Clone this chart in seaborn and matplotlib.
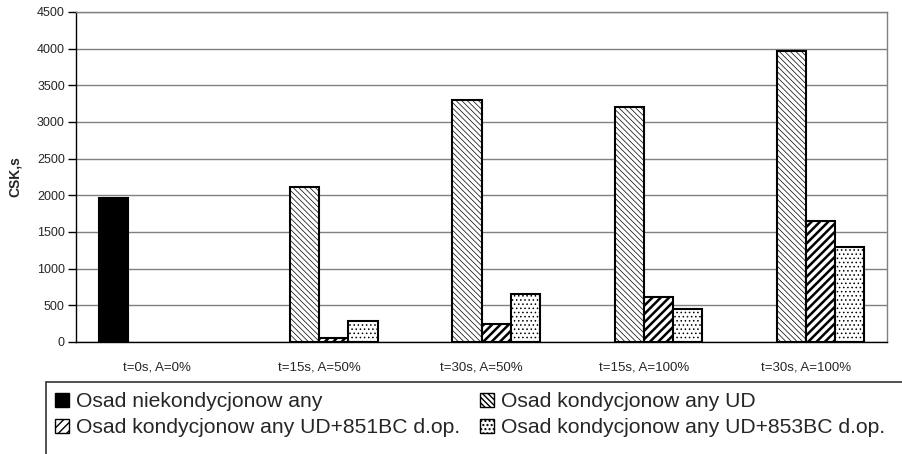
import matplotlib
matplotlib.use("Agg")
import matplotlib.pyplot as plt
import seaborn as sns
import pandas as pd
import numpy as np
from matplotlib.patches import Patch, Rectangle

categories = ["t=0s, A=0%", "t=15s, A=50%", "t=30s, A=50%", "t=15s, A=100%", "t=30s, A=100%"]
series = ["Osad niekondycjonow any",
          "Osad kondycjonow any UD",
          "Osad kondycjonow any UD+851BC d.op.",
          "Osad kondycjonow any UD+853BC d.op."]
nan = np.nan
niekond = [1970, nan, nan, nan, nan]
ud = [nan, 2110, 3300, 3200, 3975]
ud851 = [nan, 55, 250, 620, 1650]
ud853 = [nan, 280, 660, 450, 1290]
yticks = list(range(0, 4501, 500))

rows = []
for s, vals in zip(series, [niekond, ud, ud851, ud853]):
    for c, v in zip(categories, vals):
        rows.append({"cat": c, "series": s, "val": v})
df = pd.DataFrame(rows)

sns.set_style("white")
plt.rcParams['font.family'] = ['Liberation Sans', 'DejaVu Sans']

fig = plt.figure(figsize=(9.02, 4.54), dpi=100)
ax = fig.add_axes([76/902, 1-342/454, (887-76)/902, (342-12)/454])

sns.barplot(data=df, x="cat", y="val", hue="series", order=categories,
            hue_order=series, width=0.72, ax=ax, legend=False,
            palette=["black", "white", "white", "white"], saturation=1,
            edgecolor="black", linewidth=1.5, err_kws={'linewidth': 0})

styles = [
    dict(fc="black", hatch=None, hlw=1.0),
    dict(fc="white", hatch="\\\\\\\\\\\\", hlw=0.5),
    dict(fc="white", hatch="////", hlw=1.8),
    dict(fc="white", hatch="....", hlw=0.6),
]
for cont, st in zip(ax.containers, styles):
    for p in cont.patches:
        p.set_facecolor(st["fc"])
        p.set_edgecolor("black")
        if st["hatch"]:
            p.set_hatch(st["hatch"])
        if hasattr(p, "set_hatch_linewidth"):
            p.set_hatch_linewidth(st["hlw"])

ax.set_xlim(-0.5, 4.5)
ax.set_ylim(0, 4500)
ax.set_yticks(yticks)
ax.set_yticklabels([str(t) for t in yticks], fontsize=9)
ax.set_xticks(range(len(categories)))
ax.set_xticklabels(categories, fontsize=9.5)
ax.set_xticks(np.arange(-0.5, 5.0, 1.0), minor=True)
ax.tick_params(axis='x', which='major', length=0, pad=14)
ax.tick_params(axis='x', which='minor', length=6, width=1, direction='out', color='black')
ax.tick_params(axis='y', length=6, width=1, direction='out', color='black', pad=2, left=True)
ax.set_xlabel("")
ax.set_ylabel("CSK,s", fontsize=10, fontweight='bold', labelpad=11)
ax.yaxis.grid(True, color='#808080', linewidth=1)
ax.set_axisbelow(True)
for side in ["top", "right"]:
    ax.spines[side].set_visible(True)
    ax.spines[side].set_color('#808080')
    ax.spines[side].set_linewidth(1)
for side in ["left", "bottom"]:
    ax.spines[side].set_color('black')
    ax.spines[side].set_linewidth(1)

# legend
handles = []
for st in styles:
    h = Patch(facecolor=st["fc"], edgecolor="black", hatch=st["hatch"], linewidth=1.0)
    if hasattr(h, "set_hatch_linewidth"):
        h.set_hatch_linewidth(st["hlw"] * 0.8)
    handles.append(h)
order = [0, 2, 1, 3]
leg = fig.legend([handles[i] for i in order], [series[i] for i in order],
                 loc='upper left', bbox_to_anchor=(55/902, 1-392/454),
                 ncol=2, frameon=False, fontsize=15.2, handlelength=0.65,
                 handleheight=0.65, handletextpad=0.35, columnspacing=0.95,
                 labelspacing=0.33, borderpad=0, borderaxespad=0)
fig.patches.append(Rectangle((46/902, -0.1), 1.0, 0.1 + (454-382)/454,
                             transform=fig.transFigure, fill=False,
                             edgecolor='#333333', linewidth=1.2, clip_on=False))

fig.savefig("out.png", dpi=100)
